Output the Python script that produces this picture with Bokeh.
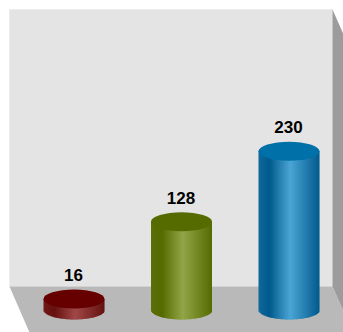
from bokeh.plotting import figure
from bokeh.models import Range1d
from bokeh.core.properties import value
from bokeh.embed import file_html
from bokeh.resources import INLINE

categories = ["A", "B", "C"]
values = [16, 128, 230]
labels = ["16", "128", "230"]
tops = ["#660000", "#556b00", "#0070a8"]
edge_l = ["#701818", "#5a7008", "#10689c"]
dark = ["#661010", "#556b00", "#005a8c"]
light = ["#a04848", "#92a548", "#4ba5d5"]

W, H = 343, 332
PX_PER_UNIT = 0.69
BASE_Y, STEP, X0 = 309.5, 107.5, 73.5
RX, RY = 30.5, 9.5

xs = lambda px: (px - X0) / STEP
ys = lambda py: (BASE_Y - py) / PX_PER_UNIT

p = figure(width=W, height=H, output_backend="svg", toolbar_location=None,
           x_range=Range1d(xs(0), xs(W)), y_range=Range1d(ys(H), ys(0)),
           min_border=0, outline_line_color=None, x_axis_type="linear")
p.axis.visible = False
p.grid.visible = False
p.background_fill_color = "white"
p.border_fill_color = "white"

# back wall, floor, side wall
p.patch([xs(v) for v in (9, 332, 332, 9)], [ys(v) for v in (9, 9, 286, 286)],
        fill_color="#e4e4e4", line_color="#ededed", line_width=1)
p.patch([xs(v) for v in (9, 332, 343, 343, 29)], [ys(v) for v in (286, 286, 311, 332, 332)],
        fill_color="#b9b9b9", line_color=None)
p.patch([xs(v) for v in (332, 343, 343, 332)], [ys(v) for v in (9, 34, 311, 286)],
        fill_color="#9c9c9c", line_color=None)

def hex2(c):
    return [int(c[i:i + 2], 16) for i in (1, 3, 5)]

def mix(a, b, t):
    a, b = hex2(a), hex2(b)
    return "#%02x%02x%02x" % tuple(round(a[i] + (b[i] - a[i]) * t) for i in range(3))

def shade(i, t):
    if t < 0.18:
        return mix(edge_l[i], dark[i], t / 0.18)
    if t < 0.52:
        return mix(dark[i], light[i], (t - 0.18) / 0.34)
    return mix(light[i], dark[i], (t - 0.52) / 0.48)

for i, v in enumerate(values):
    cx = X0 + STEP * i
    n = 61
    for k in range(n):
        t = (k + 0.5) / n
        dx = (t * 2 - 1) * RX
        sag = RY * (1 - (dx / RX) ** 2) ** 0.5
        left = cx + dx - RX / n
        right = cx + dx + RX / n + (0.6 if k < n - 1 else 0)
        p.quad(left=xs(left), right=xs(right),
               bottom=-sag / PX_PER_UNIT, top=v,
               fill_color=shade(i, t), line_color=None)
    p.ellipse(x=[i], y=[v], width=2 * RX / STEP, height=2 * RY / PX_PER_UNIT,
              fill_color=tops[i], line_color=None)
    p.text(x=[i], y=[v], text=[labels[i]], text_align="center", text_baseline="middle",
           x_offset=-0.5, y_offset=-24, text_font=value("Liberation Sans"), text_font_style="bold",
           text_font_size="17px", text_color="black")

open("out.html", "w").write(file_html(p, INLINE))
